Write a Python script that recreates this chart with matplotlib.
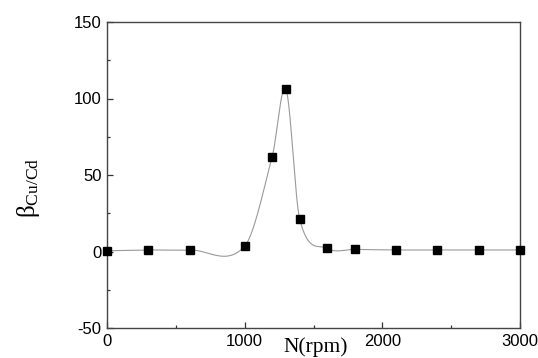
import numpy as np
import matplotlib
matplotlib.use("Agg")
import matplotlib.pyplot as plt
from matplotlib.ticker import MultipleLocator

plt.rcParams["axes.unicode_minus"] = False

speed_rpm = [0, 300, 600, 1000, 1200, 1300, 1400, 1600, 1800, 2100, 2400, 2700, 3000]
beta_cu_cd = [0.5, 1.0, 1.0, 3.5, 62.0, 106.0, 21.0, 2.0, 1.4, 1.0, 1.0, 1.0, 1.0]


def hermite_smooth(x, y, xs):
    """Cardinal (Catmull-Rom style) smoothing through the points."""
    x = np.asarray(x, float); y = np.asarray(y, float)
    n = len(x)
    m = np.zeros(n)
    m[0] = (y[1] - y[0]) / (x[1] - x[0])
    m[-1] = (y[-1] - y[-2]) / (x[-1] - x[-2])
    for i in range(1, n - 1):
        m[i] = (y[i + 1] - y[i - 1]) / (x[i + 1] - x[i - 1])
    out = np.empty_like(xs)
    for k, xv in enumerate(xs):
        i = min(max(np.searchsorted(x, xv) - 1, 0), n - 2)
        h = x[i + 1] - x[i]
        t = (xv - x[i]) / h
        h00 = 2 * t**3 - 3 * t**2 + 1
        h10 = t**3 - 2 * t**2 + t
        h01 = -2 * t**3 + 3 * t**2
        h11 = t**3 - t**2
        out[k] = h00 * y[i] + h10 * h * m[i] + h01 * y[i + 1] + h11 * h * m[i + 1]
    return out


fig = plt.figure(figsize=(5.38, 3.58), dpi=100)
ax = fig.add_axes([107 / 538, 1 - 328 / 358, (520 - 107) / 538, (328 - 22) / 358])

xs = np.linspace(speed_rpm[0], speed_rpm[-1], 1500)
ax.plot(xs, hermite_smooth(speed_rpm, beta_cu_cd, xs), color="#999999", lw=0.8, zorder=2)
ax.plot(speed_rpm, beta_cu_cd, ls="none", marker="s", ms=5.5, color="black", zorder=3, clip_on=False)

ax.set_xlim(0, 3000)
ax.set_ylim(-50, 150)
ax.xaxis.set_major_locator(MultipleLocator(1000))
ax.xaxis.set_minor_locator(MultipleLocator(500))
ax.yaxis.set_major_locator(MultipleLocator(50))
ax.yaxis.set_minor_locator(MultipleLocator(25))
ax.tick_params(which="both", direction="in", top=False, right=False, color="#333333",
               labelsize=12, width=0.9)
ax.tick_params(which="major", length=4.5, pad=4)
ax.tick_params(which="minor", length=2.5)
for lab in ax.get_xticklabels() + ax.get_yticklabels():
    lab.set_fontfamily("Liberation Sans")
for s in ax.spines.values():
    s.set_color("#444444")
    s.set_linewidth(1.0)

fig.text(316 / 538, 1 - 352 / 358, "N(rpm)", family="Liberation Serif", fontsize=15.5,
         ha="center", va="baseline")
fig.text(28 / 538, 1 - 188 / 358, r"$\mathregular{\beta_{Cu/Cd}}$", family="Liberation Serif",
         fontsize=18, rotation=90, ha="center", va="center")

fig.savefig("out.png", dpi=100)
